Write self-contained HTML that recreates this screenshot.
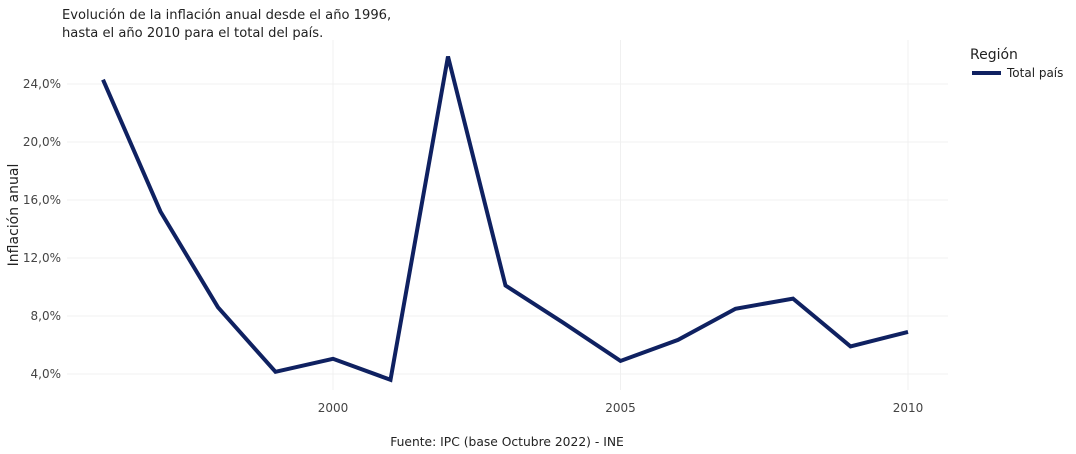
<!DOCTYPE html>
<html><head><meta charset="utf-8">
<style>
body{margin:0;background:#fff;font-family:"DejaVu Sans","Liberation Sans",sans-serif;}
svg text{font-family:"DejaVu Sans","Liberation Sans",sans-serif;}
</style></head>
<body>
<svg id="chart" width="1076" height="450">
<text x="62" y="19" font-size="13.1" fill="#222">Evolución de la inflación anual desde el año 1996,</text>
<text x="62" y="37" font-size="13.1" fill="#222">hasta el año 2010 para el total del país.</text>
<g id="grid"></g><g id="axes"></g><g id="series"></g>
<text transform="translate(18,215) rotate(-90)" text-anchor="middle" font-size="14" fill="#222">Inflación anual</text>
<text x="507" y="446" text-anchor="middle" font-size="12.3" fill="#222">Fuente: IPC (base Octubre 2022) - INE</text>
<g>
<text x="970" y="59" font-size="14" fill="#222">Región</text>
<line x1="972" y1="73" x2="1001" y2="73" stroke="#0f2161" stroke-width="4"/>
<text x="1007" y="77" font-size="12" fill="#222">Total país</text>
</g>
</svg>
<script>
const years=[1996,1997,1998,1999,2000,2001,2002,2003,2004,2005,2006,2007,2008,2009,2010];
const inflation=[24.3,15.2,8.6,4.15,5.05,3.6,25.9,10.1,7.55,4.9,6.35,8.5,9.2,5.9,6.9];
const yTicks=[4,8,12,16,20,24];
const xTicks=[2000,2005,2010];
const NS="http://www.w3.org/2000/svg";
const L=67,R=948,T=40,B=390;
const x=v=>333+(v-2000)*57.5;
const y=v=>374-(v-4)*14.5;
function mk(t,a,p){const e=document.createElementNS(NS,t);for(const k in a)e.setAttribute(k,a[k]);p.appendChild(e);return e;}
const g=document.getElementById('grid'),ax=document.getElementById('axes'),s=document.getElementById('series');
yTicks.forEach(v=>{
 const l=mk('line',{x1:L,x2:R,y1:y(v),y2:y(v),stroke:'#f0f0f0','stroke-width':1},g);
 
 
 const t=mk('text',{x:61,y:y(v)+4,'text-anchor':'end','font-size':12,fill:'#444'},ax);
 t.textContent=v.toFixed(1).replace('.',',')+'%';
 
 
});
xTicks.forEach(v=>{
 const l=mk('line',{x1:x(v),x2:x(v),y1:T,y2:B,stroke:'#f0f0f0','stroke-width':1},g);
 
 
 const t=mk('text',{x:x(v),y:412,'text-anchor':'middle','font-size':12,fill:'#444'},ax);
 t.textContent=v;
 
 
});
const p=mk('polyline',{points:years.map((yr,i)=>x(yr)+','+y(inflation[i])).join(' '),fill:'none',stroke:'#0f2161','stroke-width':4,'stroke-linejoin':'miter'},s);


</script>
</body></html>
